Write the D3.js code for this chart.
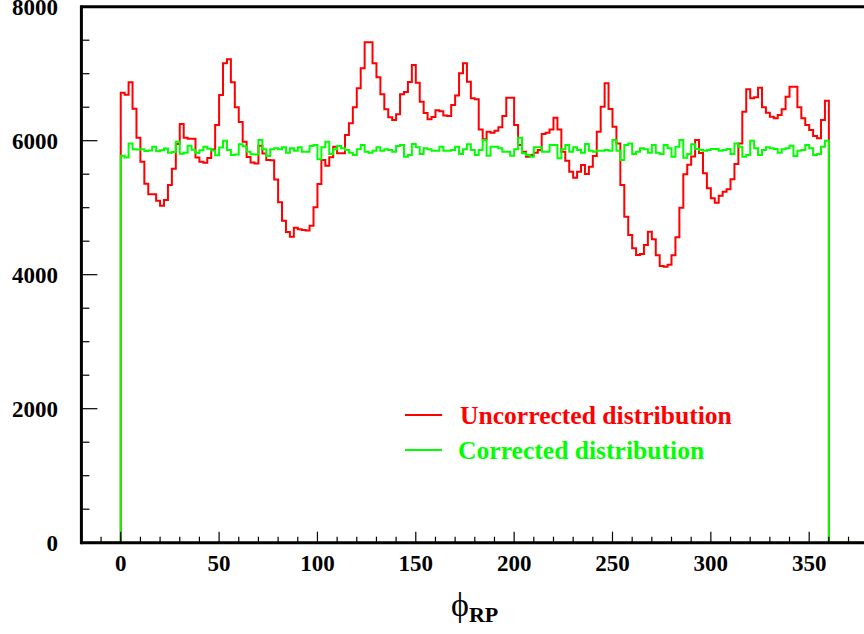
<!DOCTYPE html>
<html><head><meta charset="utf-8">
<script src="https://cdn.jsdelivr.net/npm/d3@7"></script>
<style>body{margin:0;background:#fff}svg{display:block}</style>
</head><body><svg id="c" width="864" height="634"></svg>
<script>
const binStart = 0, binWidth = 2;
const uncorrected = [6717,6687,6871,6478,6045,5687,5359,5200,5200,5105,5030,5115,5339,5583,5950,6250,6045,6030,6030,5750,
5687,5672,5740,5870,6234,6682,7155,7214,6871,6498,6280,5985,5755,5675,5660,5926,5810,5712,5707,5420,
5080,4805,4637,4568,4702,4680,4667,4660,4732,5005,5354,5712,5627,5752,5911,5811,5811,6085,6259,6498,
6781,7080,7468,7468,7155,6946,6692,6468,6349,6309,6393,6692,6727,6876,7130,6865,6582,6413,6319,6354,
6453,6438,6376,6368,6533,6675,7005,7155,6881,6632,6617,6169,6020,6135,6120,6150,6199,6368,6642,6642,
6234,5936,5836,5762,5787,5821,5861,6100,6120,6169,6344,6169,5836,5702,5538,5448,5538,5637,5503,5612,
5771,6135,6508,6856,6473,6209,5960,5339,4866,4592,4393,4294,4309,4443,4642,4530,4290,4130,4120,4150,
4290,4560,5000,5500,5640,5765,6010,5815,5513,5289,5140,5075,5179,5239,5274,5423,5652,5960,6433,6767,
6632,6647,6791,6498,6418,6358,6334,6383,6468,6657,6806,6806,6498,6334,6234,6160,6070,6035,6309,6597];
const corrected = [5777,5750,5960,5873,5870,5873,5848,5855,5911,5843,5856,5883,5821,5830,5985,5806,5821,5926,5866,5816,
5856,5911,5881,5853,5781,5898,6000,5861,5786,5794,5948,5916,5836,5799,5794,6010,5871,5772,5871,5886,
5871,5901,5821,5886,5851,5901,5836,5836,5921,5936,5722,5901,5985,5801,5871,5921,5886,5861,5821,5786,
5871,5936,5836,5821,5851,5901,5851,5871,5861,5836,5921,5936,5761,5786,5950,5901,5801,5886,5871,5851,
5851,5911,5851,5851,5861,5911,5801,5871,5946,5861,5786,5861,6010,5776,5911,5911,5886,5836,5836,5776,
5871,6045,5811,5786,5761,5901,5901,5836,5836,5936,5936,5737,5871,5936,5836,5901,5861,5821,5950,5851,
5836,5851,5851,5861,5851,6010,5851,5712,5936,5960,5801,5836,5886,5871,5821,5936,5821,5801,5936,5886,
5761,5911,6010,5747,5801,5946,5876,5861,5851,5861,5876,5876,5851,5861,5876,5801,5960,5911,5761,5786,
6000,5886,5786,5861,5901,5886,5876,5821,5871,5886,5926,5771,5851,5861,5936,5886,5786,5801,5911,6000];
const xTicks = [0,50,100,150,200,250,300,350];
const yTicks = [0,2000,4000,6000,8000];
const xDomain = [-20,380], yDomain = [0,8000];
const legendLabels = ["Uncorrected distribution","Corrected distribution"];
const colors = ["#ff0000","#00ff00"];

const svg = d3.select("#c");
const x = d3.scaleLinear().domain(xDomain).range([81.4,868.2]);
const y = d3.scaleLinear().domain(yDomain).range([542.7,6.7]);
const serif = "'Liberation Serif','Times New Roman',serif";

function histPts(vals){
  const p=[[xDomain[0],0],[binStart,0]];
  vals.forEach((v,i)=>{const a=binStart+i*binWidth;p.push([a,v]);p.push([a+binWidth,v]);});
  const end=binStart+vals.length*binWidth;
  p.push([end,0]);p.push([xDomain[1],0]);
  return p;
}
const line = d3.line().x(d=>x(d[0])).y(d=>y(d[1]));
[uncorrected,corrected].forEach((s,k)=>{
  svg.append("path").attr("d",line(histPts(s))).attr("fill","none")
    .attr("stroke",colors[k]).attr("stroke-width",2).attr("stroke-linejoin","miter");
});

// frame
svg.append("line").attr("x1",x(-20)).attr("x2",864).attr("y1",y(8000)).attr("y2",y(8000)).attr("stroke","#000").attr("stroke-width",3);
// x axis
const gx = svg.append("g");
gx.append("line").attr("x1",x(-20)).attr("x2",864).attr("y1",y(0)).attr("y2",y(0)).attr("stroke","#000").attr("stroke-width",3);
d3.range(-10,380,10).forEach(t=>{
  const major = t%50===0;
  gx.append("line").attr("x1",x(t)).attr("x2",x(t)).attr("y1",y(0)).attr("y2",y(0)-(major?11:6)).attr("stroke","#000").attr("stroke-width",1.2);
});
xTicks.forEach(t=>{
  gx.append("text").attr("x",x(t)).attr("y",571).attr("text-anchor","middle")
   .attr("font-family",serif).attr("font-weight","bold").attr("font-size",23).text(t);
});
// y axis
const gy = svg.append("g");
gy.append("line").attr("x1",x(-20)).attr("x2",x(-20)).attr("y1",y(0)+1.5).attr("y2",y(8000)-1.5).attr("stroke","#000").attr("stroke-width",3);
d3.range(0,8001,500).forEach(t=>{
  const major = t%2000===0;
  gy.append("line").attr("x1",x(-20)).attr("x2",x(-20)+(major?16:8)).attr("y1",y(t)).attr("y2",y(t)).attr("stroke","#000").attr("stroke-width",1.2);
});
yTicks.forEach(t=>{
  gy.append("text").attr("x",58).attr("y",y(t)+8).attr("text-anchor","end")
   .attr("font-family",serif).attr("font-weight","bold").attr("font-size",23).text(t);
});
// axis title
const tt = svg.append("text").attr("x",451).attr("y",616).attr("font-family",serif);
tt.append("tspan").attr("font-size",34).text("\u03D5");
tt.append("tspan").attr("font-size",22).attr("font-weight","bold").attr("dy",6).text("RP");

// legend
legendLabels.forEach((lab,k)=>{
  const ly = [415,450][k];
  svg.append("line").attr("x1",405).attr("x2",442).attr("y1",ly).attr("y2",ly).attr("stroke",colors[k]).attr("stroke-width",2);
  svg.append("text").attr("x",[460,458][k]).attr("y",ly+9).attr("fill",colors[k])
   .attr("font-family",serif).attr("font-weight","bold").attr("font-size",25.6).text(lab);
});
</script></body></html>
